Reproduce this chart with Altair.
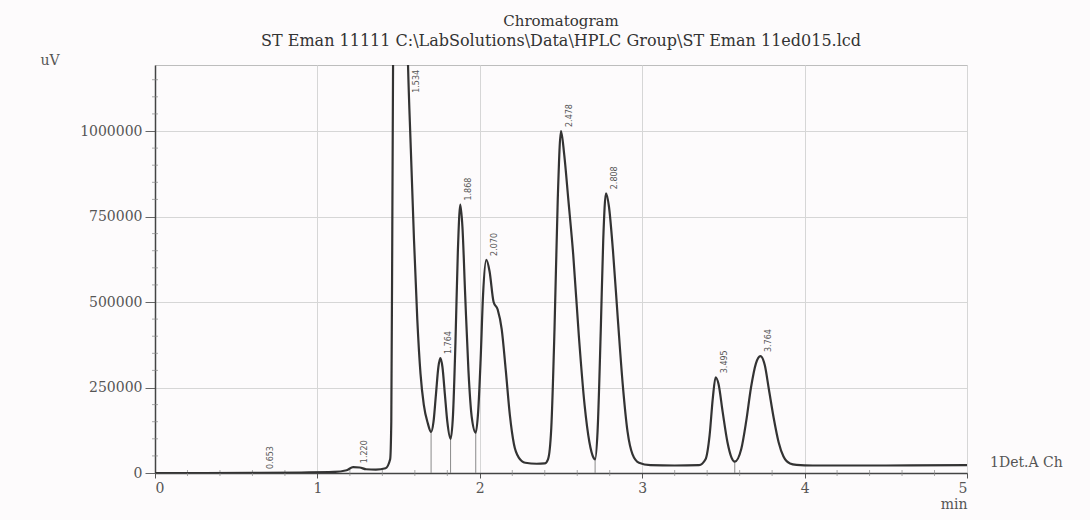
import altair as alt
import pandas as pd

# ---- trace (time in min, signal in uV) ----
time_min = [0.0, 0.3, 0.6, 0.9, 1.1, 1.18, 1.22, 1.26, 1.30, 1.36, 1.42, 1.448, 1.455, 1.462, 1.47,
            1.48, 1.495, 1.515, 1.535, 1.555, 1.575, 1.595, 1.615, 1.635, 1.655, 1.68,
            1.70, 1.715, 1.73, 1.745, 1.757, 1.77, 1.785, 1.80,
            1.82, 1.835, 1.85, 1.865, 1.88, 1.893, 1.91, 1.93, 1.95,
            1.975, 1.99, 2.005, 2.02, 2.04, 2.06, 2.085, 2.11, 2.135, 2.16, 2.185, 2.21, 2.24, 2.28,
            2.35, 2.40, 2.42, 2.44, 2.46, 2.48, 2.50, 2.52, 2.545, 2.575, 2.61, 2.645, 2.675, 2.70,
            2.71, 2.725, 2.745, 2.76, 2.777, 2.795, 2.82, 2.85, 2.88, 2.91, 2.94, 2.98,
            3.05, 3.20, 3.35, 3.39, 3.415, 3.435, 3.452, 3.47, 3.495, 3.525, 3.55,
            3.57, 3.61, 3.64, 3.67, 3.70, 3.728, 3.755, 3.78, 3.81, 3.84, 3.87, 3.91,
            3.95, 4.05, 4.5, 5.0]
signal_uv = [0, 0, 500, 1500, 3000, 8000, 17000, 16000, 11000, 10000, 14000, 40000, 150000, 800000, 1600000,
             2400000, 2900000, 2600000, 1800000, 1250000, 950000, 680000, 450000, 290000, 200000, 145000,
             120000, 150000, 230000, 310000, 336000, 310000, 230000, 150000,
             100000, 170000, 380000, 650000, 785000, 720000, 520000, 300000, 165000,
             118000, 180000, 330000, 520000, 623000, 590000, 500000, 478000, 420000, 300000, 170000, 85000, 45000, 30000,
             27000, 28000, 40000, 130000, 420000, 800000, 1000000, 930000, 800000, 640000, 400000, 200000, 90000, 45000,
             40000, 120000, 420000, 680000, 818000, 780000, 650000, 450000, 260000, 120000, 55000, 30000,
             23000, 22000, 23000, 40000, 110000, 220000, 280000, 260000, 180000, 90000, 45000,
             33000, 70000, 150000, 250000, 320000, 342000, 315000, 245000, 160000, 90000, 48000, 28000,
             24000, 22000, 22000, 23000]

# ---- peak retention-time labels ----
peak_labels = ["0.653", "1.220", "1.534", "1.764", "1.868", "2.070", "2.478", "2.808", "3.495", "3.764"]
peak_times = [0.66, 1.24, 1.56, 1.757, 1.88, 2.04, 2.50, 2.777, 3.452, 3.728]
peak_heights = [0, 17000, 1100000, 336000, 785000, 623000, 1000000, 818000, 280000, 342000]

# ---- integration drop lines at valleys ----
drop_times = [1.70, 1.82, 1.975, 2.71, 3.57]
drop_heights = [120000, 100000, 118000, 40000, 33000]

# ---- axes ----
x_ticks = [0, 1, 2, 3, 4, 5]
y_ticks = [0, 250000, 500000, 750000, 1000000]
x_minor = [0.2, 0.4, 0.6, 0.8, 1.2, 1.4, 1.6, 1.8, 2.2, 2.4, 2.6, 2.8, 3.2, 3.4, 3.6, 3.8, 4.2, 4.4, 4.6, 4.8]
y_minor = [50000, 100000, 150000, 200000, 300000, 350000, 400000, 450000, 550000, 600000, 650000,
           700000, 800000, 850000, 900000, 950000, 1050000, 1100000, 1150000]

detector_label = "1Det.A Ch"

trace = pd.DataFrame({"t": time_min, "v": signal_uv})
peaks = pd.DataFrame({"t": peak_times, "v": peak_heights, "label": peak_labels})
drops = pd.DataFrame({"t": drop_times, "v": drop_heights})
xm = pd.DataFrame({"t": x_minor, "v": [0] * len(x_minor)})
ym = pd.DataFrame({"t": [0] * len(y_minor), "v": y_minor})
det = pd.DataFrame({"t": [time_min[-1]], "v": [signal_uv[-1]], "label": [detector_label]})

SERIF = "DejaVu Serif"
xs = alt.Scale(domain=[0, 5], nice=False, zero=False)
ys = alt.Scale(domain=[0, 1193000], nice=False)

x_axis = alt.Axis(values=x_ticks, title="min", format="d", grid=True,
                  labelFont=SERIF, labelFontSize=14, labelColor="#555",
                  tickSize=5, tickColor="#555", labelPadding=3,
                  domainColor="#444", domainWidth=1.5,
                  titleFont=SERIF, titleFontSize=14, titleFontWeight="normal", titleColor="#555",
                  titleX=812, titleY=31, titleAlign="right", titleBaseline="middle")
y_axis = alt.Axis(values=y_ticks, title="uV", format="d", grid=True,
                  labelFont=SERIF, labelFontSize=14, labelColor="#555",
                  tickSize=10, tickColor="#666", labelPadding=3,
                  domainColor="#444", domainWidth=1.5,
                  titleFont=SERIF, titleFontSize=14, titleFontWeight="normal", titleColor="#555",
                  titleAngle=0, titleX=-115, titleY=-5, titleAlign="left", titleBaseline="middle")

line = alt.Chart(trace).mark_line(color="#333", strokeWidth=2.2, clip=True, interpolate="monotone").encode(
    x=alt.X("t:Q", scale=xs, axis=x_axis),
    y=alt.Y("v:Q", scale=ys, axis=y_axis),
)

drop = alt.Chart(drops).mark_rule(color="#8a8a8a", strokeWidth=1).encode(
    x=alt.X("t:Q", scale=xs), y=alt.Y("v:Q", scale=ys), y2=alt.datum(0)
)

xminor = alt.Chart(xm).mark_tick(orient="vertical", size=6, thickness=1, color="#888").encode(
    x=alt.X("t:Q", scale=xs), y=alt.Y("v:Q", scale=ys)
)
yminor = alt.Chart(ym).mark_tick(orient="horizontal", size=6, thickness=1, color="#888").encode(
    x=alt.X("t:Q", scale=xs), y=alt.Y("v:Q", scale=ys)
)

labels = alt.Chart(peaks).mark_text(angle=270, align="left", baseline="top", dx=4, dy=5,
                                    font="DejaVu Sans", fontSize=8, color="#555").encode(
    x=alt.X("t:Q", scale=xs), y=alt.Y("v:Q", scale=ys), text="label:N"
)

det_text = alt.Chart(det).mark_text(align="left", baseline="middle", dx=23, dy=-2,
                                    font=SERIF, fontSize=14, color="#555").encode(
    x=alt.X("t:Q", scale=xs), y=alt.Y("v:Q", scale=ys), text="label:N"
)

chart = alt.layer(drop, xminor, yminor, line, labels, det_text).properties(
    width=812, height=408,
    autosize=alt.AutoSizeParams(type="none"),
    padding={"left": 155, "top": 65, "right": 123, "bottom": 47},
    title=alt.TitleParams(
        text="Chromatogram",
        subtitle="ST Eman 11111 C:\\LabSolutions\\Data\\HPLC Group\\ST Eman 11ed015.lcd",
        font=SERIF, fontSize=15, fontWeight="normal", color="#333",
        subtitleFont=SERIF, subtitleFontSize=16, subtitleColor="#333", subtitlePadding=4,
        anchor="middle", offset=4,
    ),
).configure(background="#fdfbfc").configure_view(
    stroke="#bdbdbd", strokeWidth=1
).configure_axis(gridColor="#d6d6d6", gridWidth=1)

chart.save("out.html", embed_options={"renderer": "svg", "actions": False})
